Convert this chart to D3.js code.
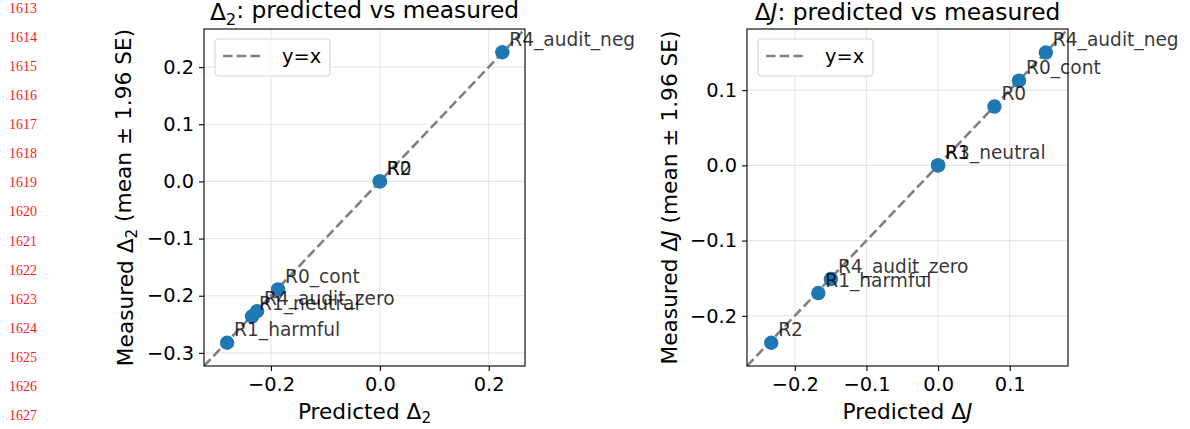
<!DOCTYPE html>
<html>
<head>
<meta charset="utf-8">
<script src="https://cdn.jsdelivr.net/npm/d3@7"></script>
<style>
  html, body { margin: 0; padding: 0; background: #fff; }
  svg { display: block; font-family: "DejaVu Sans", sans-serif; }
</style>
</head>
<body>
<svg id="chart" width="1190" height="429"></svg>
<script>
// ---- Data ----
const labelsD2 = ["R0", "R0_cont", "R1_harmful", "R1_neutral", "R2", "R4_audit_neg", "R4_audit_zero"];
const predictedD2 = [0.0, -0.187, -0.2805, -0.2347, 0.0, 0.225, -0.2255];
const measuredD2  = [0.0, -0.189, -0.2823, -0.236, 0.0, 0.226, -0.227];
const xTicksD2 = [-0.2, 0.0, 0.2];
const yTicksD2 = [-0.3, -0.2, -0.1, 0.0, 0.1, 0.2];

const labelsDJ = ["R0", "R0_cont", "R1_harmful", "R1_neutral", "R2", "R3", "R4_audit_neg", "R4_audit_zero"];
const predictedDJ = [0.0786, 0.1129, -0.1672, 0.0, -0.2329, 0.0, 0.1504, -0.1496];
const measuredDJ  = [0.0782, 0.1126, -0.1697, 0.0, -0.2358, 0.0, 0.150, -0.1511];
const xTicksDJ = [-0.2, -0.1, 0.0, 0.1];
const yTicksDJ = [-0.2, -0.1, 0.0, 0.1];

const legendLabel = "y=x";
const lineNumbers = d3.range(1613, 1628);

// ---- Drawing ----
const svg = d3.select("#chart");
const fmt = d3.format(".1f");

// margin line numbers
svg.append("g").selectAll("text").data(lineNumbers).join("text")
  .attr("x", 37).attr("y", (d, i) => 13 + i * 29.07)
  .attr("text-anchor", "end")
  .attr("fill", "#ff1a1a")
  .style("font-family", "'Liberation Serif', 'DejaVu Serif', serif")
  .style("font-size", "14px")
  .text(d => d);

function sym(sel, sub) {
  // append Delta with subscript or italic J
  sel.append("tspan").text("Δ");
  if (sub === "2") {
    sel.append("tspan").attr("dy", "0.28em").style("font-size", "0.7em").text("2");
    return "reset";
  } else {
    sel.append("tspan").style("font-style", "italic").text("J");
    return null;
  }
}

function panel(opts) {
  const { left, right, top, bottom, pred, meas, labels, xTicks, yTicks, sub } = opts;
  const all = pred.concat(meas);
  const lo = d3.min(all), hi = d3.max(all);
  const pad = 0.08 * (hi - lo);
  const dom = [lo - pad, hi + pad];
  const x = d3.scaleLinear().domain(dom).range([left, right]);
  const y = d3.scaleLinear().domain(dom).range([bottom, top]);
  const g = svg.append("g");

  const clipId = "clip" + left;
  svg.append("clipPath").attr("id", clipId).append("rect")
    .attr("x", left).attr("y", top).attr("width", right - left).attr("height", bottom - top);

  // grid
  g.append("g").selectAll("line").data(xTicks).join("line")
    .attr("x1", d => x(d)).attr("x2", d => x(d)).attr("y1", top).attr("y2", bottom)
    .attr("stroke", "#b0b0b0").attr("stroke-opacity", 0.3).attr("stroke-width", 1.1);
  g.append("g").selectAll("line").data(yTicks).join("line")
    .attr("y1", d => y(d)).attr("y2", d => y(d)).attr("x1", left).attr("x2", right)
    .attr("stroke", "#b0b0b0").attr("stroke-opacity", 0.3).attr("stroke-width", 1.1);

  // y=x dashed line
  g.append("line").attr("clip-path", `url(#${clipId})`)
    .attr("x1", x(dom[0])).attr("y1", y(dom[0])).attr("x2", x(dom[1])).attr("y2", y(dom[1]))
    .attr("stroke", "#808080").attr("stroke-width", 2.6).attr("stroke-dasharray", "9.5,4.2");

  // points
  const idx = d3.range(pred.length);
  g.append("g").selectAll("circle").data(idx).join("circle")
    .attr("cx", i => x(pred[i])).attr("cy", i => y(meas[i])).attr("r", 7.2)
    .attr("fill", "#1f77b4");

  // labels
  g.append("g").selectAll("text").data(idx).join("text")
    .attr("x", i => x(pred[i]) + 7).attr("y", i => y(meas[i]) - 6.5)
    .attr("fill", "#000").attr("fill-opacity", 0.8)
    .style("font-size", "18.6px")
    .text(i => labels[i]);

  // axes
  const xAxis = d3.axisBottom(x).tickValues(xTicks).tickFormat(fmt).tickSize(5).tickPadding(4);
  const yAxis = d3.axisLeft(y).tickValues(yTicks).tickFormat(fmt).tickSize(5).tickPadding(5);
  const gx = g.append("g").attr("transform", `translate(0,${bottom})`).call(xAxis);
  const gy = g.append("g").attr("transform", `translate(${left},0)`).call(yAxis);
  [gx, gy].forEach(a => {
    a.select(".domain").remove();
    a.selectAll(".tick line").attr("stroke", "#000").attr("stroke-width", 1.1);
    a.selectAll(".tick text").attr("fill", "#000")
      .style("font-family", "'DejaVu Sans', sans-serif").style("font-size", "19.4px");
  });
  gx.selectAll(".tick text").attr("dy", "0.85em");

  // frame
  g.append("rect").attr("x", left).attr("y", top).attr("width", right - left).attr("height", bottom - top)
    .attr("fill", "none").attr("stroke", "#000").attr("stroke-width", 1.1);

  // legend
  const lg = g.append("g").attr("transform", `translate(${left + 11},${top + 10})`);
  lg.append("rect").attr("x", 0).attr("y", 0).attr("width", 115).attr("height", 37).attr("rx", 3.5)
    .attr("fill", "#fff").attr("fill-opacity", 0.8).attr("stroke", "#d6d6d6").attr("stroke-width", 1.1);
  lg.append("line").attr("x1", 8).attr("x2", 49).attr("y1", 17).attr("y2", 17)
    .attr("stroke", "#808080").attr("stroke-width", 2.6).attr("stroke-dasharray", "9.5,4.2");
  lg.append("text").attr("x", 67).attr("y", 24).style("font-size", "19.4px").attr("fill", "#000").text(legendLabel);

  const cx = (left + right) / 2, cy = (top + bottom) / 2;
  // title
  const t = g.append("text").attr("x", cx).attr("y", 20).attr("text-anchor", "middle")
    .style("font-size", "23.3px").attr("fill", "#000");
  const r1 = sym(t, sub);
  t.append("tspan").attr("dy", r1 ? "-0.28em" : null).text(": predicted vs measured");
  // x label
  const xl = g.append("text").attr("x", cx).attr("y", 419).attr("text-anchor", "middle")
    .style("font-size", "21.7px").attr("fill", "#000");
  xl.append("tspan").text("Predicted ");
  sym(xl, sub);
  // y label
  const yl = g.append("text").attr("transform", `translate(${opts.ylabX},${cy}) rotate(-90)`)
    .attr("text-anchor", "middle").style("font-size", "21.7px").attr("fill", "#000");
  yl.append("tspan").text("Measured ");
  const r2 = sym(yl, sub);
  yl.append("tspan").attr("dy", r2 ? "-0.28em" : null).text(" (mean ± 1.96 SE)");
}

panel({ left: 204, right: 525, top: 29, bottom: 366, pred: predictedD2, meas: measuredD2,
        labels: labelsD2, xTicks: xTicksD2, yTicks: yTicksD2, sub: "2", ylabX: 133 });
panel({ left: 747, right: 1068, top: 29, bottom: 366, pred: predictedDJ, meas: measuredDJ,
        labels: labelsDJ, xTicks: xTicksDJ, yTicks: yTicksDJ, sub: "J", ylabX: 677 });
</script>
</body>
</html>
